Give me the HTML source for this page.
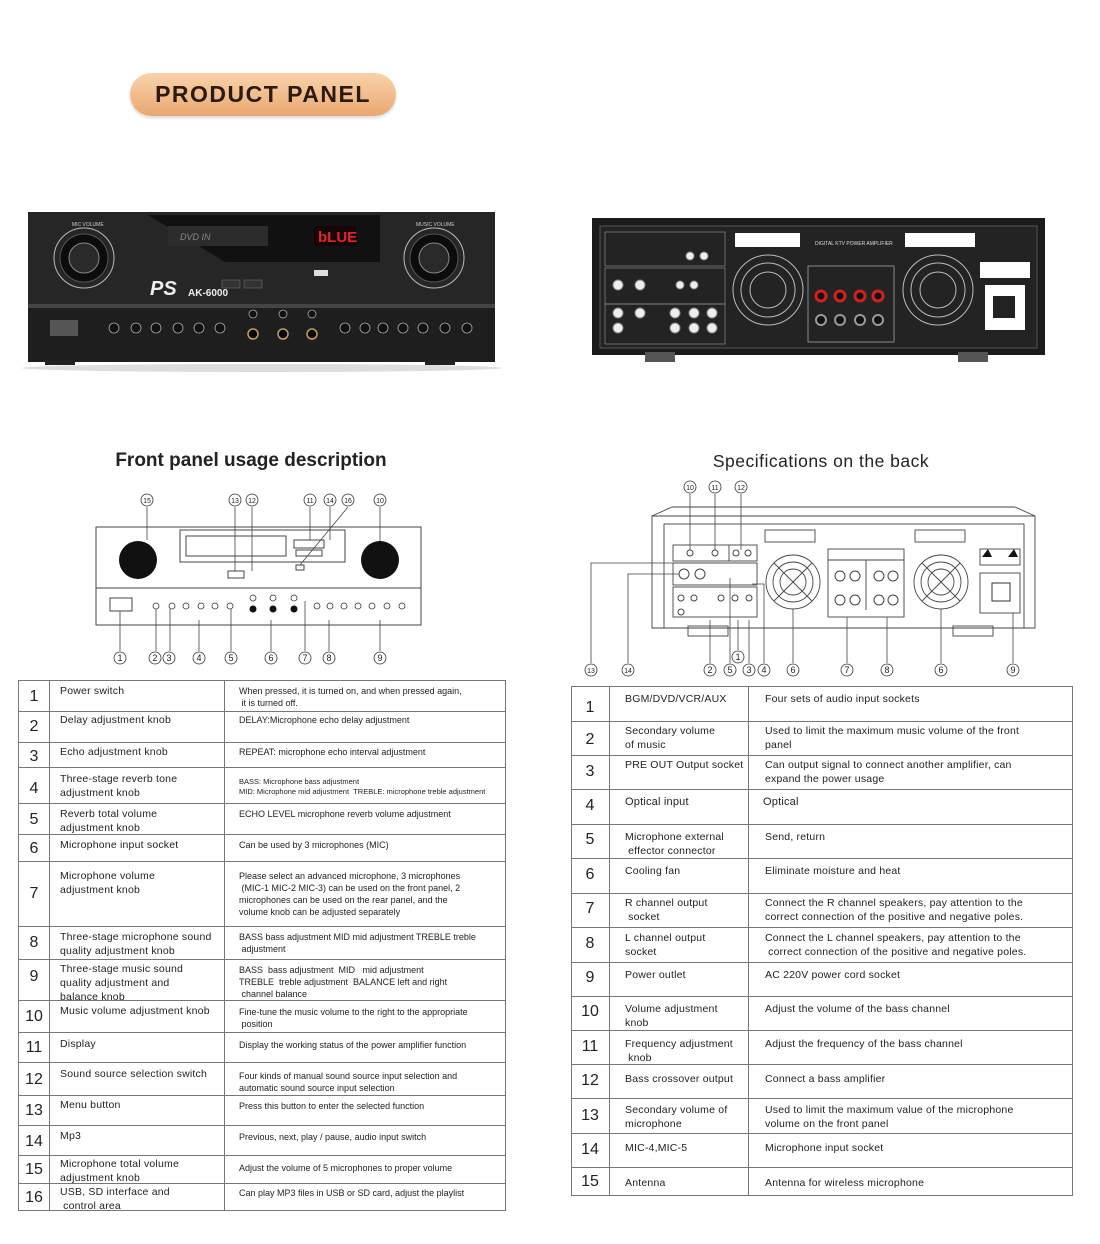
<!DOCTYPE html>
<html><head><meta charset="utf-8">
<style>
*{margin:0;padding:0;box-sizing:border-box}
body{width:1100px;height:1244px;background:#fff;position:relative;overflow:hidden;font-family:"Liberation Sans",sans-serif;color:#222}
.a{position:absolute}
.t{position:absolute;border:1px solid #777}
.r{position:absolute;left:0;right:0;border-top:1px solid #777}
.c{position:absolute;font-size:10.5px;line-height:14px;letter-spacing:0.2px}
.d{position:absolute;font-size:9px;line-height:12px}
.n{position:absolute;font-size:16px;width:30px;text-align:center}
.vl{position:absolute;top:0;bottom:0;border-left:1px solid #777}
</style></head><body>

<div class="a" style="left:130px;top:73px;width:266px;height:43px;border-radius:22px;background:linear-gradient(180deg,#f9d3ab,#eaa870);box-shadow:0 2px 3px rgba(0,0,0,.15);text-align:center;font:bold 23px/43px 'Liberation Sans',sans-serif;letter-spacing:1.5px;color:#2b1a0e">PRODUCT PANEL</div>

<svg class="a" style="left:0;top:0" width="1100" height="680" xmlns="http://www.w3.org/2000/svg">
<!-- front amp -->
<rect x="28" y="212" width="467" height="150" fill="#1e1e1e"/>
<rect x="28" y="212" width="467" height="92" fill="#262626"/>
<rect x="28" y="304" width="467" height="4" fill="#444"/>
<rect x="45" y="360" width="30" height="5" fill="#222"/><rect x="425" y="360" width="30" height="5" fill="#222"/>
<polygon points="148,215 380,215 380,262 225,262" fill="#111"/>
<rect x="168" y="226" width="100" height="20" fill="#2c2c2c"/>
<text x="180" y="240" fill="#888" font-size="9" font-style="italic">DVD   IN</text>
<rect x="314" y="226" width="42" height="20" fill="#180606"/>
<text x="318" y="242" fill="#e2262a" font-size="15" font-weight="bold">bLUE</text>
<circle cx="84" cy="258" r="30" fill="none" stroke="#bbb" stroke-width="1"/>
<circle cx="84" cy="258" r="24" fill="#0c0c0c" stroke="#555"/>
<circle cx="84" cy="258" r="15" fill="#2a2a2a" stroke="#888"/>
<circle cx="434" cy="258" r="30" fill="none" stroke="#bbb" stroke-width="1"/>
<circle cx="434" cy="258" r="24" fill="#0c0c0c" stroke="#555"/>
<circle cx="434" cy="258" r="15" fill="#2a2a2a" stroke="#888"/>
<text x="72" y="226" fill="#ccc" font-size="5">MIC VOLUME</text>
<text x="416" y="226" fill="#ccc" font-size="5">MUSIC VOLUME</text>
<text x="150" y="295" fill="#eee" font-size="20" font-weight="bold" font-style="italic">PS</text>
<text x="188" y="296" fill="#eee" font-size="10" font-weight="bold">AK-6000</text>
<rect x="222" y="280" width="18" height="8" fill="#333" stroke="#777" stroke-width=".5"/><rect x="244" y="280" width="18" height="8" fill="#333" stroke="#777" stroke-width=".5"/>
<rect x="314" y="270" width="14" height="6" fill="#ddd"/>
<rect x="50" y="320" width="28" height="16" fill="#555"/>
<g fill="#111" stroke="#aaa" stroke-width=".8">
<circle cx="114" cy="328" r="5"/><circle cx="136" cy="328" r="5"/><circle cx="156" cy="328" r="5"/><circle cx="178" cy="328" r="5"/><circle cx="199" cy="328" r="5"/><circle cx="220" cy="328" r="5"/>
<circle cx="253" cy="314" r="4"/><circle cx="283" cy="314" r="4"/><circle cx="312" cy="314" r="4"/>
<circle cx="345" cy="328" r="5"/><circle cx="365" cy="328" r="5"/><circle cx="383" cy="328" r="5"/><circle cx="403" cy="328" r="5"/><circle cx="423" cy="328" r="5"/><circle cx="445" cy="328" r="5"/><circle cx="467" cy="328" r="5"/>
</g>
<g fill="#000" stroke="#c9a060" stroke-width="1.5"><circle cx="253" cy="334" r="5"/><circle cx="283" cy="334" r="5"/><circle cx="312" cy="334" r="5"/></g>
<ellipse cx="262" cy="368" rx="240" ry="4" fill="#ddd"/>

<!-- back amp -->
<rect x="592" y="218" width="453" height="137" fill="#1b1b1b"/>
<rect x="600" y="226" width="437" height="122" fill="#232323" stroke="#555"/>
<rect x="645" y="352" width="30" height="10" fill="#555"/><rect x="958" y="352" width="30" height="10" fill="#555"/>
<g fill="#fff"><rect x="735" y="233" width="65" height="14"/><rect x="905" y="233" width="70" height="14"/><rect x="980" y="262" width="50" height="16"/><rect x="985" y="285" width="40" height="45"/></g>
<rect x="993" y="296" width="22" height="22" fill="#222"/>
<text x="815" y="245" fill="#ddd" font-size="5">DIGITAL KTV POWER AMPLIFIER</text>
<g fill="none" stroke="#bbb"><circle cx="768" cy="290" r="35"/><circle cx="768" cy="290" r="27"/><circle cx="768" cy="290" r="18"/><circle cx="938" cy="290" r="35"/><circle cx="938" cy="290" r="27"/><circle cx="938" cy="290" r="18"/></g>
<rect x="808" y="266" width="86" height="76" fill="none" stroke="#888"/>
<g fill="#111" stroke="#d02020" stroke-width="3"><circle cx="821" cy="296" r="5"/><circle cx="840" cy="296" r="5"/><circle cx="860" cy="296" r="5"/><circle cx="878" cy="296" r="5"/></g>
<g fill="#111" stroke="#999" stroke-width="2"><circle cx="821" cy="320" r="5"/><circle cx="840" cy="320" r="5"/><circle cx="860" cy="320" r="5"/><circle cx="878" cy="320" r="5"/></g>
<g fill="#eee" stroke="#888"><circle cx="618" cy="285" r="5"/><circle cx="640" cy="285" r="5"/><circle cx="618" cy="313" r="5"/><circle cx="640" cy="313" r="5"/><circle cx="618" cy="328" r="5"/><circle cx="675" cy="313" r="5"/><circle cx="694" cy="313" r="5"/><circle cx="712" cy="313" r="5"/><circle cx="675" cy="328" r="5"/><circle cx="694" cy="328" r="5"/><circle cx="712" cy="328" r="5"/><circle cx="690" cy="256" r="4"/><circle cx="704" cy="256" r="4"/><circle cx="680" cy="285" r="4"/><circle cx="694" cy="285" r="4"/></g>
<g fill="none" stroke="#999" stroke-width=".6"><rect x="605" y="232" width="120" height="34"/><rect x="605" y="268" width="120" height="36"/><rect x="605" y="304" width="120" height="40"/></g>

<!-- titles -->
<text x="251" y="466" text-anchor="middle" font-size="19" font-weight="bold" fill="#222" font-family="Liberation Sans">Front panel usage description</text>
<text x="821" y="467" text-anchor="middle" font-size="17.5" fill="#222" font-family="Liberation Sans" letter-spacing=".5">Specifications on the back</text>

<!-- front line diagram -->
<g fill="none" stroke="#444" stroke-width="1">
<rect x="96" y="527" width="325" height="98"/>
<line x1="96" y1="588" x2="421" y2="588"/>
<rect x="180" y="530" width="165" height="32"/><rect x="186" y="536" width="100" height="20"/>
<rect x="294" y="540" width="30" height="8"/><rect x="296" y="550" width="26" height="6"/>
<rect x="228" y="571" width="16" height="7"/>
<rect x="110" y="598" width="22" height="13"/>
<rect x="296" y="565" width="8" height="5"/>
</g>
<circle cx="138" cy="560" r="19" fill="#111"/><circle cx="380" cy="560" r="19" fill="#111"/>
<g fill="#fff" stroke="#333" stroke-width=".8"><circle cx="156" cy="606" r="3"/><circle cx="172" cy="606" r="3"/><circle cx="186" cy="606" r="3"/><circle cx="201" cy="606" r="3"/><circle cx="215" cy="606" r="3"/><circle cx="230" cy="606" r="3"/><circle cx="253" cy="598" r="3"/><circle cx="273" cy="598" r="3"/><circle cx="294" cy="598" r="3"/><circle cx="317" cy="606" r="3"/><circle cx="330" cy="606" r="3"/><circle cx="344" cy="606" r="3"/><circle cx="358" cy="606" r="3"/><circle cx="372" cy="606" r="3"/><circle cx="387" cy="606" r="3"/><circle cx="402" cy="606" r="3"/></g>
<g fill="#111"><circle cx="253" cy="609" r="3.5"/><circle cx="273" cy="609" r="3.5"/><circle cx="294" cy="609" r="3.5"/></g>
<g stroke="#444" stroke-width=".8">
<line x1="147" y1="507" x2="147" y2="540"/><line x1="235" y1="507" x2="235" y2="571"/><line x1="252" y1="507" x2="252" y2="571"/><line x1="310" y1="507" x2="310" y2="540"/><line x1="330" y1="507" x2="330" y2="540"/><line x1="348" y1="507" x2="300" y2="565"/><line x1="380" y1="507" x2="380" y2="541"/>
<line x1="120" y1="611" x2="120" y2="651"/><line x1="156" y1="609" x2="156" y2="651"/><line x1="170" y1="609" x2="170" y2="651"/><line x1="199" y1="620" x2="199" y2="651"/><line x1="231" y1="609" x2="231" y2="651"/><line x1="271" y1="620" x2="271" y2="651"/><line x1="305" y1="601" x2="305" y2="651"/><line x1="329" y1="620" x2="329" y2="651"/><line x1="380" y1="620" x2="380" y2="651"/>
</g>
<g font-size="9" fill="#222" text-anchor="middle" font-family="Liberation Sans">
<g fill="#fff" stroke="#333" stroke-width=".8"><circle cx="147" cy="500" r="6"/><circle cx="235" cy="500" r="6"/><circle cx="252" cy="500" r="6"/><circle cx="310" cy="500" r="6"/><circle cx="330" cy="500" r="6"/><circle cx="348" cy="500" r="6"/><circle cx="380" cy="500" r="6"/>
<circle cx="120" cy="658" r="6"/><circle cx="155" cy="658" r="6"/><circle cx="169" cy="658" r="6"/><circle cx="199" cy="658" r="6"/><circle cx="231" cy="658" r="6"/><circle cx="271" cy="658" r="6"/><circle cx="305" cy="658" r="6"/><circle cx="329" cy="658" r="6"/><circle cx="380" cy="658" r="6"/></g>
<text x="147" y="503" font-size="7">15</text><text x="235" y="503" font-size="7">13</text><text x="252" y="503" font-size="7">12</text><text x="310" y="503" font-size="7">11</text><text x="330" y="503" font-size="7">14</text><text x="348" y="503" font-size="7">16</text><text x="380" y="503" font-size="7">10</text>
<text x="120" y="661">1</text><text x="155" y="661">2</text><text x="169" y="661">3</text><text x="199" y="661">4</text><text x="231" y="661">5</text><text x="271" y="661">6</text><text x="305" y="661">7</text><text x="329" y="661">8</text><text x="380" y="661">9</text>
</g>

<!-- back line diagram -->
<g fill="none" stroke="#444" stroke-width=".9">
<polygon points="652,516 1035,516 1035,628 652,628"/>
<line x1="652" y1="516" x2="672" y2="507"/><line x1="1035" y1="516" x2="1015" y2="507"/><line x1="672" y1="507" x2="1015" y2="507"/>
<rect x="664" y="524" width="360" height="104"/>
<rect x="673" y="545" width="84" height="16"/><line x1="729" y1="545" x2="729" y2="561"/>
<rect x="673" y="563" width="84" height="22"/><rect x="673" y="587" width="84" height="30"/>
<rect x="765" y="530" width="50" height="12"/><rect x="915" y="530" width="50" height="12"/>
<rect x="828" y="549" width="76" height="68"/><line x1="828" y1="560" x2="904" y2="560"/><line x1="866" y1="560" x2="866" y2="610"/>
<rect x="980" y="549" width="40" height="16"/><rect x="980" y="573" width="40" height="40"/>
<circle cx="793" cy="582" r="27"/><circle cx="793" cy="582" r="20"/><circle cx="793" cy="582" r="13"/>
<circle cx="941" cy="582" r="27"/><circle cx="941" cy="582" r="20"/><circle cx="941" cy="582" r="13"/>
<line x1="774" y1="563" x2="812" y2="601"/><line x1="812" y1="563" x2="774" y2="601"/>
<line x1="922" y1="563" x2="960" y2="601"/><line x1="960" y1="563" x2="922" y2="601"/>
<rect x="688" y="626" width="40" height="10"/><rect x="953" y="626" width="40" height="10"/>
</g>
<g fill="#fff" stroke="#444"><circle cx="684" cy="574" r="5"/><circle cx="700" cy="574" r="5"/><circle cx="840" cy="576" r="5"/><circle cx="855" cy="576" r="5"/><circle cx="879" cy="576" r="5"/><circle cx="893" cy="576" r="5"/><circle cx="840" cy="600" r="5"/><circle cx="855" cy="600" r="5"/><circle cx="879" cy="600" r="5"/><circle cx="893" cy="600" r="5"/><circle cx="690" cy="553" r="3"/><circle cx="715" cy="553" r="3"/><circle cx="736" cy="553" r="3"/><circle cx="748" cy="553" r="3"/><circle cx="681" cy="598" r="3"/><circle cx="694" cy="598" r="3"/><circle cx="721" cy="598" r="3"/><circle cx="735" cy="598" r="3"/><circle cx="749" cy="598" r="3"/><circle cx="681" cy="612" r="3"/></g>
<polygon points="982,557 988,549 992,557" fill="#111"/><polygon points="1008,557 1014,549 1018,557" fill="#111"/>
<rect x="992" y="583" width="18" height="18" fill="none" stroke="#333"/>
<g stroke="#444" stroke-width=".8" fill="none">
<line x1="690" y1="494" x2="690" y2="550"/><line x1="715" y1="494" x2="715" y2="550"/><line x1="741" y1="494" x2="741" y2="550"/>
<polyline points="591,663 591,563 720,563"/><polyline points="628,663 628,574 679,574"/>
<line x1="710" y1="663" x2="710" y2="620"/><line x1="730" y1="663" x2="730" y2="578"/><line x1="749" y1="663" x2="749" y2="620"/><polyline points="764,663 764,584 752,584"/><line x1="738" y1="650" x2="738" y2="620"/><line x1="793" y1="663" x2="793" y2="609"/><line x1="847" y1="663" x2="847" y2="617"/><line x1="887" y1="663" x2="887" y2="617"/><line x1="941" y1="663" x2="941" y2="609"/><line x1="1013" y1="663" x2="1013" y2="613"/>
</g>
<g fill="#fff" stroke="#333" stroke-width=".8"><circle cx="690" cy="487" r="6"/><circle cx="715" cy="487" r="6"/><circle cx="741" cy="487" r="6"/><circle cx="591" cy="670" r="6"/><circle cx="628" cy="670" r="6"/><circle cx="710" cy="670" r="6"/><circle cx="730" cy="670" r="6"/><circle cx="749" cy="670" r="6"/><circle cx="764" cy="670" r="6"/><circle cx="738" cy="657" r="6"/><circle cx="793" cy="670" r="6"/><circle cx="847" cy="670" r="6"/><circle cx="887" cy="670" r="6"/><circle cx="941" cy="670" r="6"/><circle cx="1013" cy="670" r="6"/></g>
<g font-size="9" fill="#222" text-anchor="middle" font-family="Liberation Sans">
<text x="690" y="490" font-size="7">10</text><text x="715" y="490" font-size="7">11</text><text x="741" y="490" font-size="7">12</text><text x="591" y="673" font-size="7">13</text><text x="628" y="673" font-size="7">14</text>
<text x="710" y="673">2</text><text x="730" y="673">5</text><text x="749" y="673">3</text><text x="764" y="673">4</text><text x="738" y="660">1</text><text x="793" y="673">6</text><text x="847" y="673">7</text><text x="887" y="673">8</text><text x="941" y="673">6</text><text x="1013" y="673">9</text>
</g>
</svg>

<!-- LEFT TABLE -->
<div class="t" style="left:18px;top:680px;width:488px;height:531px">
<div class="vl" style="left:30px"></div><div class="vl" style="left:205px"></div>
<div class="r" style="top:30px"></div><div class="r" style="top:61px"></div><div class="r" style="top:86px"></div><div class="r" style="top:122px"></div><div class="r" style="top:153px"></div><div class="r" style="top:180px"></div><div class="r" style="top:245px"></div><div class="r" style="top:278px"></div><div class="r" style="top:319px"></div><div class="r" style="top:351px"></div><div class="r" style="top:381px"></div><div class="r" style="top:414px"></div><div class="r" style="top:444px"></div><div class="r" style="top:474px"></div><div class="r" style="top:502px"></div>
<div class="n" style="top:7px">1</div><div class="n" style="top:37px">2</div><div class="n" style="top:67px">3</div><div class="n" style="top:99px">4</div><div class="n" style="top:130px">5</div><div class="n" style="top:159px">6</div><div class="n" style="top:204px">7</div><div class="n" style="top:253px">8</div><div class="n" style="top:287px">9</div><div class="n" style="top:327px">10</div><div class="n" style="top:358px">11</div><div class="n" style="top:390px">12</div><div class="n" style="top:421px">13</div><div class="n" style="top:452px">14</div><div class="n" style="top:480px">15</div><div class="n" style="top:508px">16</div>
<div class="c" style="left:41px;top:3px">Power switch</div>
<div class="c" style="left:41px;top:32px">Delay adjustment knob</div>
<div class="c" style="left:41px;top:64px">Echo adjustment knob</div>
<div class="c" style="left:41px;top:91px">Three-stage reverb tone<br>adjustment knob</div>
<div class="c" style="left:41px;top:126px">Reverb total volume<br>adjustment knob</div>
<div class="c" style="left:41px;top:157px">Microphone input socket</div>
<div class="c" style="left:41px;top:188px">Microphone volume<br>adjustment knob</div>
<div class="c" style="left:41px;top:249px">Three-stage microphone sound<br>quality adjustment knob</div>
<div class="c" style="left:41px;top:281px">Three-stage music sound<br>quality adjustment and<br>balance knob</div>
<div class="c" style="left:41px;top:323px">Music volume adjustment knob</div>
<div class="c" style="left:41px;top:356px">Display</div>
<div class="c" style="left:41px;top:386px">Sound source selection switch</div>
<div class="c" style="left:41px;top:417px">Menu button</div>
<div class="c" style="left:41px;top:448px">Mp3</div>
<div class="c" style="left:41px;top:476px">Microphone total volume<br>adjustment knob</div>
<div class="c" style="left:41px;top:504px">USB, SD interface and<br>&nbsp;control area</div>
<div class="d" style="left:220px;top:4px">When pressed, it is turned on, and when pressed again,<br>&nbsp;it is turned off.</div>
<div class="d" style="left:220px;top:33px">DELAY:Microphone echo delay adjustment</div>
<div class="d" style="left:220px;top:65px">REPEAT: microphone echo interval adjustment</div>
<div class="d" style="left:220px;top:96px;font-size:7.5px;line-height:10px">BASS: Microphone bass adjustment<br>MID: Microphone mid adjustment &nbsp;TREBLE: microphone treble adjustment</div>
<div class="d" style="left:220px;top:127px">ECHO LEVEL microphone reverb volume adjustment</div>
<div class="d" style="left:220px;top:158px">Can be used by 3 microphones (MIC)</div>
<div class="d" style="left:220px;top:189px">Please select an advanced microphone, 3 microphones<br>&nbsp;(MIC-1 MIC-2 MIC-3) can be used on the front panel, 2<br>microphones can be used on the rear panel, and the<br>volume knob can be adjusted separately</div>
<div class="d" style="left:220px;top:250px">BASS bass adjustment MID mid adjustment TREBLE treble<br>&nbsp;adjustment</div>
<div class="d" style="left:220px;top:283px">BASS &nbsp;bass adjustment &nbsp;MID &nbsp;&nbsp;mid adjustment<br>TREBLE &nbsp;treble adjustment &nbsp;BALANCE left and right<br>&nbsp;channel balance</div>
<div class="d" style="left:220px;top:325px">Fine-tune the music volume to the right to the appropriate<br>&nbsp;position</div>
<div class="d" style="left:220px;top:358px">Display the working status of the power amplifier function</div>
<div class="d" style="left:220px;top:389px">Four kinds of manual sound source input selection and<br>automatic sound source input selection</div>
<div class="d" style="left:220px;top:419px">Press this button to enter the selected function</div>
<div class="d" style="left:220px;top:450px">Previous, next, play / pause, audio input switch</div>
<div class="d" style="left:220px;top:481px">Adjust the volume of 5 microphones to proper volume</div>
<div class="d" style="left:220px;top:506px">Can play MP3 files in USB or SD card, adjust the playlist</div>
</div>

<!-- RIGHT TABLE -->
<div class="t" style="left:571px;top:686px;width:502px;height:510px">
<div class="vl" style="left:37px"></div><div class="vl" style="left:176px"></div>
<div class="r" style="top:34px"></div><div class="r" style="top:68px"></div><div class="r" style="top:102px"></div><div class="r" style="top:137px"></div><div class="r" style="top:171px"></div><div class="r" style="top:206px"></div><div class="r" style="top:240px"></div><div class="r" style="top:275px"></div><div class="r" style="top:309px"></div><div class="r" style="top:343px"></div><div class="r" style="top:377px"></div><div class="r" style="top:411px"></div><div class="r" style="top:446px"></div><div class="r" style="top:480px"></div>
<div class="n" style="left:3px;top:12px">1</div><div class="n" style="left:3px;top:44px">2</div><div class="n" style="left:3px;top:76px">3</div><div class="n" style="left:3px;top:110px">4</div><div class="n" style="left:3px;top:144px">5</div><div class="n" style="left:3px;top:179px">6</div><div class="n" style="left:3px;top:213px">7</div><div class="n" style="left:3px;top:248px">8</div><div class="n" style="left:3px;top:282px">9</div><div class="n" style="left:3px;top:316px">10</div><div class="n" style="left:3px;top:351px">11</div><div class="n" style="left:3px;top:385px">12</div><div class="n" style="left:3px;top:420px">13</div><div class="n" style="left:3px;top:454px">14</div><div class="n" style="left:3px;top:486px">15</div>
<div class="c" style="left:53px;top:5px">BGM/DVD/VCR/AUX</div>
<div class="c" style="left:53px;top:37px">Secondary volume<br>of music</div>
<div class="c" style="left:53px;top:71px">PRE OUT Output socket</div>
<div class="c" style="left:53px;top:108px;font-size:11px">Optical input</div>
<div class="c" style="left:53px;top:143px">Microphone external<br>&nbsp;effector connector</div>
<div class="c" style="left:53px;top:177px">Cooling fan</div>
<div class="c" style="left:53px;top:209px">R channel output<br>&nbsp;socket</div>
<div class="c" style="left:53px;top:244px">L channel output<br>socket</div>
<div class="c" style="left:53px;top:281px">Power outlet</div>
<div class="c" style="left:53px;top:315px">Volume adjustment<br>knob</div>
<div class="c" style="left:53px;top:350px">Frequency adjustment<br>&nbsp;knob</div>
<div class="c" style="left:53px;top:385px">Bass crossover output</div>
<div class="c" style="left:53px;top:416px">Secondary volume of<br>microphone</div>
<div class="c" style="left:53px;top:454px">MIC-4,MIC-5</div>
<div class="c" style="left:53px;top:489px">Antenna</div>
<div class="c" style="left:193px;top:5px">Four sets of audio input sockets</div>
<div class="c" style="left:193px;top:37px">Used to limit the maximum music volume of the front<br>panel</div>
<div class="c" style="left:193px;top:71px">Can output signal to connect another amplifier, can<br>expand the power usage</div>
<div class="c" style="left:191px;top:108px;font-size:11px">Optical</div>
<div class="c" style="left:193px;top:143px">Send, return</div>
<div class="c" style="left:193px;top:177px">Eliminate moisture and heat</div>
<div class="c" style="left:193px;top:209px">Connect the R channel speakers, pay attention to the<br>correct connection of the positive and negative poles.</div>
<div class="c" style="left:193px;top:244px">Connect the L channel speakers, pay attention to the<br>&nbsp;correct connection of the positive and negative poles.</div>
<div class="c" style="left:193px;top:281px">AC 220V power cord socket</div>
<div class="c" style="left:193px;top:315px">Adjust the volume of the bass channel</div>
<div class="c" style="left:193px;top:350px">Adjust the frequency of the bass channel</div>
<div class="c" style="left:193px;top:385px">Connect a bass amplifier</div>
<div class="c" style="left:193px;top:416px">Used to limit the maximum value of the microphone<br>volume on the front panel</div>
<div class="c" style="left:193px;top:454px">Microphone input socket</div>
<div class="c" style="left:193px;top:489px">Antenna for wireless microphone</div>
</div>
</body></html>
